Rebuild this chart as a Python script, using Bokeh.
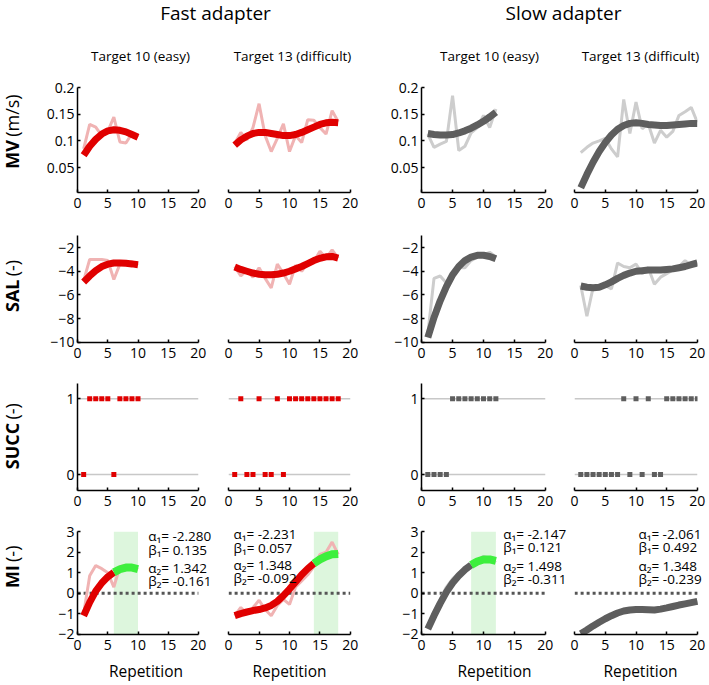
import numpy as np
from bokeh.plotting import figure
from bokeh.layouts import row, column
from bokeh.models import Range1d, FixedTicker, Span, BoxAnnotation, Label, NumeralTickFormatter
from bokeh.core.properties import value
from bokeh.embed import file_html
from bokeh.resources import INLINE

# ---------------- data ----------------
group_titles = ["Fast adapter", "Slow adapter"]
target_titles = ["Target 10 (easy)", "Target 13 (difficult)", "Target 10 (easy)", "Target 13 (difficult)"]
row_names = ["MV", "SAL", "SUCC", "MI"]
row_units = ["(m/s)", "(-)", "(-)", "(-)"]
x_label = "Repetition"
x_ticks = [0, 5, 10, 15, 20]
mv_ticks = [0.05, 0.1, 0.15, 0.2]
sal_ticks = [-10, -8, -6, -4, -2]
succ_ticks = [0, 1]
mi_ticks = [-2, -1, 0, 1, 2, 3]

n_reps = [10, 18, 12, 20]

fast_t10_mv_raw = [0.085, 0.131, 0.126, 0.110, 0.118, 0.145, 0.098, 0.096, 0.114, 0.107]
fast_t10_mv_fit = [0.073, 0.090, 0.103, 0.113, 0.119, 0.121, 0.120, 0.117, 0.112, 0.107]
fast_t13_mv_raw = [0.095, 0.116, 0.102, 0.125, 0.170, 0.110, 0.080, 0.105, 0.132, 0.080,
                   0.110, 0.097, 0.140, 0.139, 0.125, 0.113, 0.157, 0.136]
fast_t13_mv_fit = [0.092, 0.102, 0.109, 0.114, 0.116, 0.116, 0.114, 0.112, 0.110, 0.110,
                   0.112, 0.116, 0.121, 0.126, 0.131, 0.134, 0.135, 0.134]
slow_t10_mv_raw = [0.113, 0.088, 0.094, 0.099, 0.185, 0.082, 0.090, 0.115, 0.125, 0.148, 0.125, 0.160]
slow_t10_mv_fit = [0.114, 0.112, 0.111, 0.111, 0.112, 0.115, 0.119, 0.124, 0.130, 0.137, 0.145, 0.154]
slow_t13_mv_raw = [0.078, 0.088, 0.096, 0.100, 0.105, 0.085, 0.070, 0.178, 0.114, 0.173,
                   0.123, 0.132, 0.096, 0.120, 0.107, 0.118, 0.148, 0.155, 0.163, 0.135]
slow_t13_mv_fit = [0.012, 0.037, 0.060, 0.080, 0.097, 0.111, 0.122, 0.129, 0.133, 0.134,
                   0.133, 0.131, 0.130, 0.129, 0.129, 0.130, 0.131, 0.132, 0.133, 0.133]

fast_t10_sal_raw = [-4.8, -3.0, -3.0, -3.0, -3.1, -4.7, -3.4, -3.3, -3.2, -3.5]
fast_t10_sal_fit = [-4.9, -4.4, -3.95, -3.6, -3.4, -3.3, -3.3, -3.33, -3.38, -3.45]
fast_t13_sal_raw = [-3.6, -4.4, -3.9, -4.5, -3.7, -4.6, -5.4, -3.4, -4.2, -5.1,
                    -3.5, -4.0, -3.3, -3.2, -2.3, -2.9, -2.2, -2.9]
fast_t13_sal_fit = [-3.65, -3.85, -4.0, -4.15, -4.25, -4.3, -4.3, -4.25, -4.15, -4.0,
                    -3.8, -3.6, -3.35, -3.1, -2.9, -2.78, -2.75, -2.9]
slow_t10_sal_raw = [-9.3, -4.6, -4.4, -5.0, -4.2, -3.7, -3.7, -3.1, -2.8, -2.6, -2.4, -2.8]
slow_t10_sal_fit = [-9.6, -7.9, -6.5, -5.3, -4.3, -3.6, -3.1, -2.8, -2.65, -2.65, -2.75, -2.95]
slow_t13_sal_raw = [-5.2, -7.8, -5.4, -5.3, -5.2, -5.5, -3.3, -3.6, -3.7, -3.4,
                    -4.2, -3.7, -5.1, -4.5, -4.2, -3.9, -3.6, -3.1, -3.5, -3.3]
slow_t13_sal_fit = [-5.25, -5.35, -5.4, -5.35, -5.15, -4.9, -4.6, -4.35, -4.15, -4.0,
                    -3.95, -3.9, -3.9, -3.9, -3.85, -3.8, -3.7, -3.6, -3.45, -3.3]

fast_t10_succ = [0, 1, 1, 1, 1, 0, 1, 1, 1, 1]
fast_t13_succ = [0, 1, 0, 0, 1, 0, 0, 1, 0, 1, 1, 1, 1, 1, 1, 1, 1, 1]
slow_t10_succ = [0, 0, 0, 0, 1, 1, 1, 1, 1, 1, 1, 1]
slow_t13_succ = [0, 0, 0, 0, 0, 0, 0, 1, 0, 1, 0, 1, 0, 0, 1, 1, 1, 1, 1, 1]

fast_t10_mi_raw = [-1.0, 0.85, 1.35, 1.2, 1.0, 0.3, 1.3, 1.35, 1.3, 1.15]
fast_t10_mi_fit = [-1.1, -0.45, 0.1, 0.5, 0.8, 1.02, 1.17, 1.25, 1.25, 1.18]
fast_t13_mi_raw = [-1.1, -0.7, -1.0, -0.7, -0.35, -0.8, -1.1, -0.6, -0.3, -0.55,
                   0.3, 0.6, 0.9, 1.3, 1.9, 2.0, 2.5, 1.9]
fast_t13_mi_fit = [-1.1, -1.0, -0.92, -0.85, -0.8, -0.72, -0.6, -0.4, -0.12, 0.2,
                   0.55, 0.9, 1.2, 1.45, 1.65, 1.8, 1.9, 1.92]
slow_t10_mi_raw = [-1.6, -0.9, -0.3, 0.3, 0.7, 1.0, 1.2, 1.4, 1.6, 1.8, 1.7, 1.5]
slow_t10_mi_fit = [-1.75, -1.1, -0.5, 0.05, 0.5, 0.85, 1.15, 1.38, 1.55, 1.65, 1.65, 1.58]
slow_t13_mi_raw = [-2.0, -1.8, -1.6, -1.4, -1.25, -1.1, -1.0, -0.9, -0.85, -0.8,
                   -0.8, -0.85, -0.9, -0.8, -0.7, -0.65, -0.6, -0.5, -0.45, -0.4]
slow_t13_mi_fit = [-1.98, -1.8, -1.6, -1.42, -1.25, -1.1, -0.97, -0.87, -0.82, -0.8,
                   -0.8, -0.81, -0.82, -0.78, -0.72, -0.65, -0.58, -0.52, -0.46, -0.4]

green_from = [6, 14, 8, None]
shade_start = [6, 14, 8, None]
shade_end = [10, 18, 12, None]

mi_stats = [
    ["α₁= -2.280", "β₁= 0.135", "α₂= 1.342", "β₂= -0.161"],
    ["α₁= -2.231", "β₁= 0.057", "α₂= 1.348", "β₂= -0.092"],
    ["α₁= -2.147", "β₁= 0.121", "α₂= 1.498", "β₂= -0.311"],
    ["α₁= -2.061", "β₁= 0.492", "α₂= 1.348", "β₂= -0.239"],
]

mv_raw = [fast_t10_mv_raw, fast_t13_mv_raw, slow_t10_mv_raw, slow_t13_mv_raw]
mv_fit = [fast_t10_mv_fit, fast_t13_mv_fit, slow_t10_mv_fit, slow_t13_mv_fit]
sal_raw = [fast_t10_sal_raw, fast_t13_sal_raw, slow_t10_sal_raw, slow_t13_sal_raw]
sal_fit = [fast_t10_sal_fit, fast_t13_sal_fit, slow_t10_sal_fit, slow_t13_sal_fit]
succ = [fast_t10_succ, fast_t13_succ, slow_t10_succ, slow_t13_succ]
mi_raw = [fast_t10_mi_raw, fast_t13_mi_raw, slow_t10_mi_raw, slow_t13_mi_raw]
mi_fit = [fast_t10_mi_fit, fast_t13_mi_fit, slow_t10_mi_fit, slow_t13_mi_fit]

# ---------------- layout / style ----------------
FONT = "Open Sans"
DARK = ["#e00000", "#e00000", "#5e5e5e", "#5e5e5e"]
LIGHT = ["#f0b3b3", "#f0b3b3", "#cdcdcd", "#cdcdcd"]
GREEN = "#3def3d"
SHADE = "#ddf6dd"

LAB_W = 30
COL_W = [188, 152, 197, 141]
COL_BL = [47, 10, 51, 7]
COL_BR = [20, 20, 22, 11]
MI_EXTRA = [16, 0, 22, 9]          # px of frame added right of x=20 in MI row (room for stats)
MI_TOP_EXTRA = 10                  # px of frame added above y=3 in MI row
HEAD_H = 75
ROW_H = [147, 148, 148, 166]
ROW_BT = [12, 13, 13, 13]
ROW_BB = [30, 28, 28, 49]
Y_RANGES = [(0.003, 0.2005), (-10.02, -0.98), (-0.21, 1.2), (-2.02, 3.02)]
X_LO, X_HI = -0.02, 20.02
LABEL_SPLIT = [-9, 5.6, 12.2, 1.1]
GROUP_X = [215, 563]
SUB_X = [140, 292, 489, 640]
STAT_X = [11.7, 0.8, 13.2, 10.4]
STAT_Y = [[2.79, 2.11, 1.25, 0.61], [2.9, 2.19, 1.36, 0.72],
          [2.9, 2.27, 1.31, 0.67], [2.9, 2.27, 1.31, 0.67]]


def style_axis(ax, standoff):
    ax.axis_line_color = "black"
    ax.axis_line_width = 1.5
    ax.major_tick_line_color = "black"
    ax.major_tick_line_width = 1.5
    ax.major_tick_in = 3
    ax.major_tick_out = 0
    ax.minor_tick_line_color = None
    ax.major_label_text_font = FONT
    ax.major_label_text_font_size = "14px"
    ax.major_label_text_color = "black"
    ax.major_label_standoff = standoff


def base_fig(r, c, yticks, extra=0, top_extra=0):
    frame_w = COL_W[c] - COL_BL[c] - COL_BR[c]
    frame_h = ROW_H[r] - ROW_BT[r] - ROW_BB[r]
    x_hi = X_HI + extra * (X_HI - X_LO) / frame_w
    y_lo, y_hi = Y_RANGES[r]
    y_top = y_hi + top_extra * (y_hi - y_lo) / frame_h
    p = figure(width=COL_W[c], height=ROW_H[r],
               x_range=Range1d(X_LO, x_hi), y_range=Range1d(y_lo, y_top),
               output_backend="svg", toolbar_location=None,
               min_border_left=COL_BL[c], min_border_right=COL_BR[c] - extra,
               min_border_top=ROW_BT[r] - top_extra, min_border_bottom=ROW_BB[r])
    p.outline_line_color = None
    p.grid.visible = False
    for ax in p.xaxis:
        style_axis(ax, 5)
        ax.ticker = FixedTicker(ticks=x_ticks)
        ax.bounds = (X_LO, X_HI)
    for ax in p.yaxis:
        style_axis(ax, 3)
        ax.ticker = FixedTicker(ticks=yticks)
        ax.bounds = (y_lo, y_hi)
    if r == 0:
        p.yaxis.formatter = NumeralTickFormatter(format="0.[00]")
    if c in (1, 3):
        p.yaxis.visible = False
    return p


def row_label(r):
    h = ROW_H[r]
    lab = figure(width=LAB_W, height=h, x_range=Range1d(0, LAB_W), y_range=Range1d(0, h),
                 output_backend="svg", toolbar_location=None, min_border=0,
                 x_axis_location=None, y_axis_location=None)
    lab.outline_line_color = None
    lab.grid.visible = False
    cy = ROW_BB[r] + (h - ROW_BT[r] - ROW_BB[r]) / 2 + LABEL_SPLIT[r]
    lab.text(x=[11], y=[cy], text=[row_names[r]], angle=np.pi / 2, text_align="right",
             text_baseline="middle", text_font=value(FONT), text_font_size="18px",
             text_font_style="bold", text_color="black")
    lab.text(x=[11], y=[cy + 4.5], text=[row_units[r]], angle=np.pi / 2, text_align="left",
             text_baseline="middle", text_font=value(FONT), text_font_size="18px",
             text_color="black")
    return lab


# header
total_w = sum(COL_W) + LAB_W
header = figure(width=total_w, height=HEAD_H,
                x_range=Range1d(0, total_w), y_range=Range1d(HEAD_H, 0),
                output_backend="svg", toolbar_location=None, min_border=0,
                x_axis_location=None, y_axis_location=None)
header.outline_line_color = None
header.grid.visible = False
header.text(x=GROUP_X, y=[12, 12], text=group_titles, text_font=value(FONT),
            text_font_size="19px", text_align="center", text_baseline="middle", text_color="black")
header.text(x=SUB_X, y=[55] * 4, text=target_titles, text_font=value(FONT),
            text_font_size="13.5px", text_align="center", text_baseline="middle", text_color="black")

rows = [header]

# MV and SAL rows
for r, (raws, fits, ticks) in enumerate([(mv_raw, mv_fit, mv_ticks), (sal_raw, sal_fit, sal_ticks)]):
    figs = [row_label(r)]
    for c in range(4):
        p = base_fig(r, c, ticks)
        xs = list(range(1, n_reps[c] + 1))
        p.line(xs, raws[c], line_color=LIGHT[c], line_width=3)
        p.line(xs, fits[c], line_color=DARK[c], line_width=7)
        figs.append(p)
    rows.append(row(*figs))

# SUCC row
figs = [row_label(2)]
for c in range(4):
    p = base_fig(2, c, succ_ticks)
    for lv in succ_ticks:
        p.add_layout(Span(location=lv, dimension="width", line_color="#c8c8c8",
                          line_width=1.5, level="underlay"))
    xs = list(range(1, n_reps[c] + 1))
    p.scatter(xs, succ[c], marker="square", size=5, fill_color=DARK[c], line_color=None)
    figs.append(p)
rows.append(row(*figs))

# MI row
figs = [row_label(3)]
for c in range(4):
    p = base_fig(3, c, mi_ticks, extra=MI_EXTRA[c], top_extra=MI_TOP_EXTRA)
    p.xaxis.axis_label = x_label
    p.xaxis.axis_label_text_font = FONT
    p.xaxis.axis_label_text_font_size = "15.5px"
    p.xaxis.axis_label_text_font_style = "normal"
    p.xaxis.axis_label_text_color = "black"
    p.xaxis.axis_label_standoff = 7
    if shade_start[c] is not None:
        p.add_layout(BoxAnnotation(left=shade_start[c], right=shade_end[c],
                                   bottom=mi_ticks[0], top=mi_ticks[-1], fill_color=SHADE,
                                   fill_alpha=1.0, line_color=None, level="underlay"))
    p.line([x_ticks[0], x_ticks[-1]], [0, 0], line_color="#555555", line_width=3,
           line_dash="3 3")
    xs = list(range(1, n_reps[c] + 1))
    p.line(xs, mi_raw[c], line_color=LIGHT[c], line_width=3)
    g = green_from[c]
    if g is None:
        p.line(xs, mi_fit[c], line_color=DARK[c], line_width=7)
    else:
        p.line(xs[:g], mi_fit[c][:g], line_color=DARK[c], line_width=7)
        p.line(xs[g - 1:], mi_fit[c][g - 1:], line_color=GREEN, line_width=8)
    for k, txt in enumerate(mi_stats[c]):
        p.add_layout(Label(x=STAT_X[c], y=STAT_Y[c][k], text=txt, text_font=FONT,
                           text_font_size="13.5px", text_baseline="middle", text_align="left",
                           text_color="black"))
    figs.append(p)
rows.append(row(*figs))

layout = column(*rows)
open("out.html", "w").write(file_html(layout, INLINE))
